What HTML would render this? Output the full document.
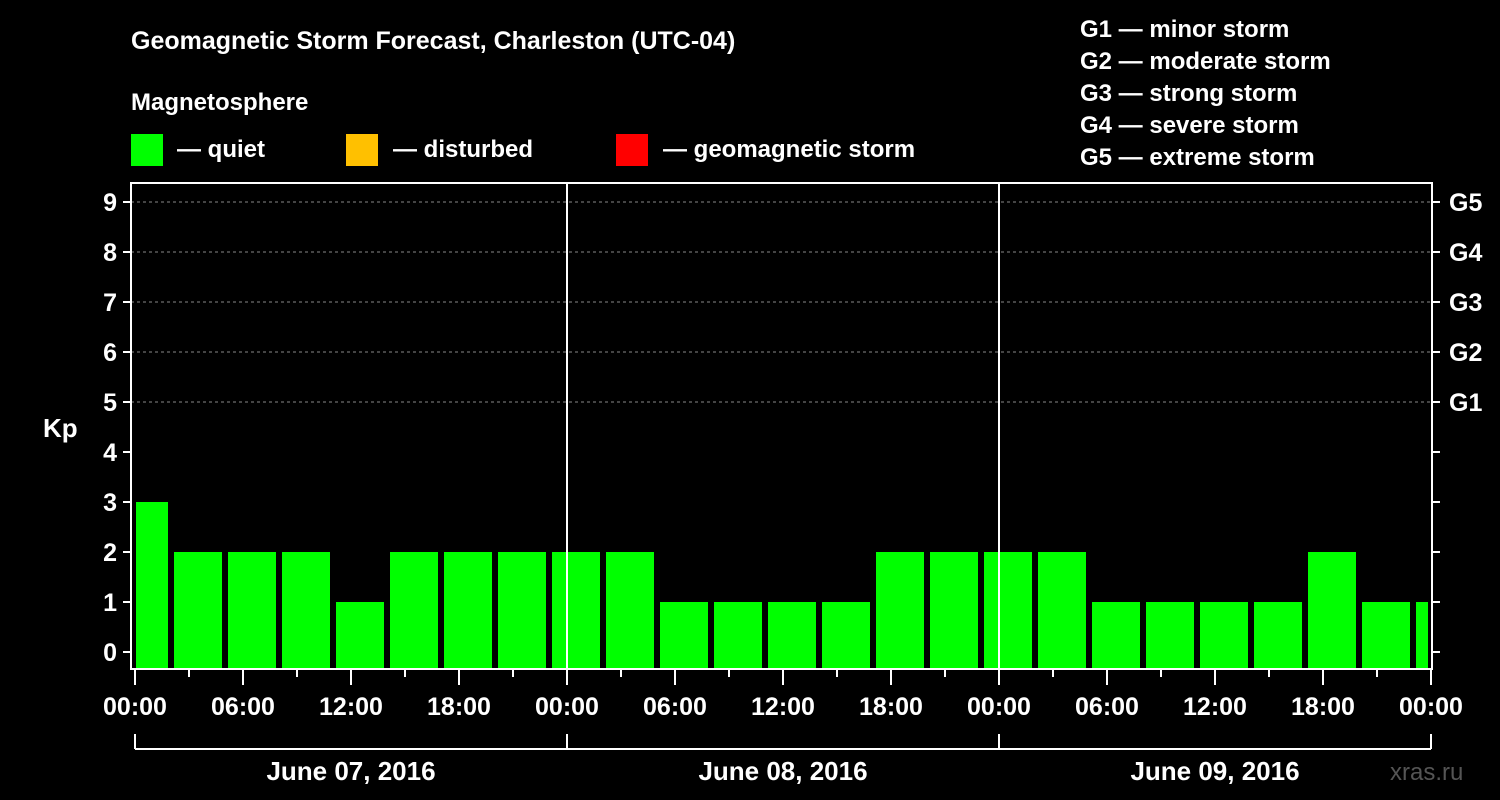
<!DOCTYPE html>
<html><head><meta charset="utf-8"><style>
body{margin:0;background:#000;}
svg{display:block;font-family:"Liberation Sans",sans-serif;font-weight:bold;}
</style></head><body>
<svg width="1500" height="800" viewBox="0 0 1500 800">
<rect width="1500" height="800" fill="#000"/>
<text x="131" y="49" fill="#fff" font-size="25">Geomagnetic Storm Forecast, Charleston (UTC-04)</text>
<text x="131" y="110" fill="#fff" font-size="24">Magnetosphere</text>
<g><rect x="131" y="134" width="32" height="32" fill="#00ff00"/><text x="177" y="157" fill="#fff" font-size="24">— quiet</text></g>
<g><rect x="346" y="134" width="32" height="32" fill="#ffc000"/><text x="393" y="157" fill="#fff" font-size="24">— disturbed</text></g>
<g><rect x="616" y="134" width="32" height="32" fill="#ff0000"/><text x="663" y="157" fill="#fff" font-size="24">— geomagnetic storm</text></g>
<g fill="#fff" font-size="24">
<text x="1080" y="37">G1 — minor storm</text>
<text x="1080" y="69">G2 — moderate storm</text>
<text x="1080" y="101">G3 — strong storm</text>
<text x="1080" y="133">G4 — severe storm</text>
<text x="1080" y="165">G5 — extreme storm</text>
</g>
<g id="grid"></g>
<g id="bars"></g>
<g id="axes"></g>
<text x="43" y="437" fill="#fff" font-size="26">Kp</text>
<text x="1390" y="780" fill="#555" font-size="24" font-weight="normal">xras.ru</text>
</svg>
<script>
const kpValues=[3,2,2,2,1,2,2,2,2,2,1,1,1,1,2,2,2,2,1,1,1,1,2,1,1];
const slotStartHours=[-1,2,5,8,11,14,17,20,23,26,29,32,35,38,41,44,47,50,53,56,59,62,65,68,71];
const yTicks=[0,1,2,3,4,5,6,7,8,9];
const gLabels=['G1','G2','G3','G4','G5'];
const gLevels=[5,6,7,8,9];
const hourLabels=['00:00','06:00','12:00','18:00'];
const dayLabels=['June 07, 2016','June 08, 2016','June 09, 2016'];
const NS='http://www.w3.org/2000/svg';
const X0=135,PXH=18,L=131,R=1432,T=183,B=669;
const xs=h=>X0+h*PXH;
const ys=v=>652-v*50;
function mk(tag,at,parent,txt){const e=document.createElementNS(NS,tag);for(const k in at)e.setAttribute(k,at[k]);if(txt!==undefined)e.textContent=txt;parent.appendChild(e);return e;}
const grid=document.getElementById('grid'),bars=document.getElementById('bars'),axes=document.getElementById('axes');
gLevels.forEach(v=>{const l=mk('line',{x1:L,x2:R,y1:ys(v),y2:ys(v),stroke:'#888','stroke-dasharray':'3,3','stroke-width':1},grid);

});
kpValues.forEach((v,i)=>{let x1=xs(slotStartHours[i])+3,x2=xs(slotStartHours[i]+3)-3;x1=Math.max(x1,L+5);x2=Math.min(x2,R-4);
const c=v>=5?'#ff0000':(v>=4?'#ffc000':'#00ff00');
const r=mk('rect',{x:x1,y:ys(v),width:x2-x1,height:B-ys(v),fill:c},bars);

});
[1,2].forEach(d=>{const l=mk('line',{x1:xs(24*d),x2:xs(24*d),y1:T,y2:B,stroke:'#fff','stroke-width':2},axes);

});
const f=mk('rect',{x:L,y:T,width:R-L,height:B-T,fill:'none',stroke:'#fff','stroke-width':2},axes);


yTicks.forEach(v=>{mk('line',{x1:L-8,x2:L,y1:ys(v),y2:ys(v),stroke:'#fff','stroke-width':2},axes);
mk('line',{x1:R,x2:R+8,y1:ys(v),y2:ys(v),stroke:'#fff','stroke-width':2},axes);
const t=mk('text',{x:L-14,y:ys(v)+9,fill:'#fff','font-size':25,'text-anchor':'end'},axes,String(v));

});
gLevels.forEach((v,i)=>{const t=mk('text',{x:1449,y:ys(v)+9,fill:'#fff','font-size':25},axes,gLabels[i]);

});
for(let h=0;h<=72;h+=3){const major=h%6===0;mk('line',{x1:xs(h),x2:xs(h),y1:B,y2:B+(major?16:8),stroke:'#fff','stroke-width':2},axes);
if(major){const t=mk('text',{x:xs(h),y:715,fill:'#fff','font-size':25,'text-anchor':'middle'},axes,hourLabels[(h/6)%4]);

}}
mk('line',{x1:xs(0),x2:xs(72),y1:749,y2:749,stroke:'#fff','stroke-width':2},axes);
for(let d=0;d<=3;d++)mk('line',{x1:xs(24*d),x2:xs(24*d),y1:734,y2:749,stroke:'#fff','stroke-width':2},axes);
dayLabels.forEach((s,d)=>{const t=mk('text',{x:xs(24*d+12),y:780,fill:'#fff','font-size':26,'text-anchor':'middle'},axes,s);

});
</script>
</body></html>
